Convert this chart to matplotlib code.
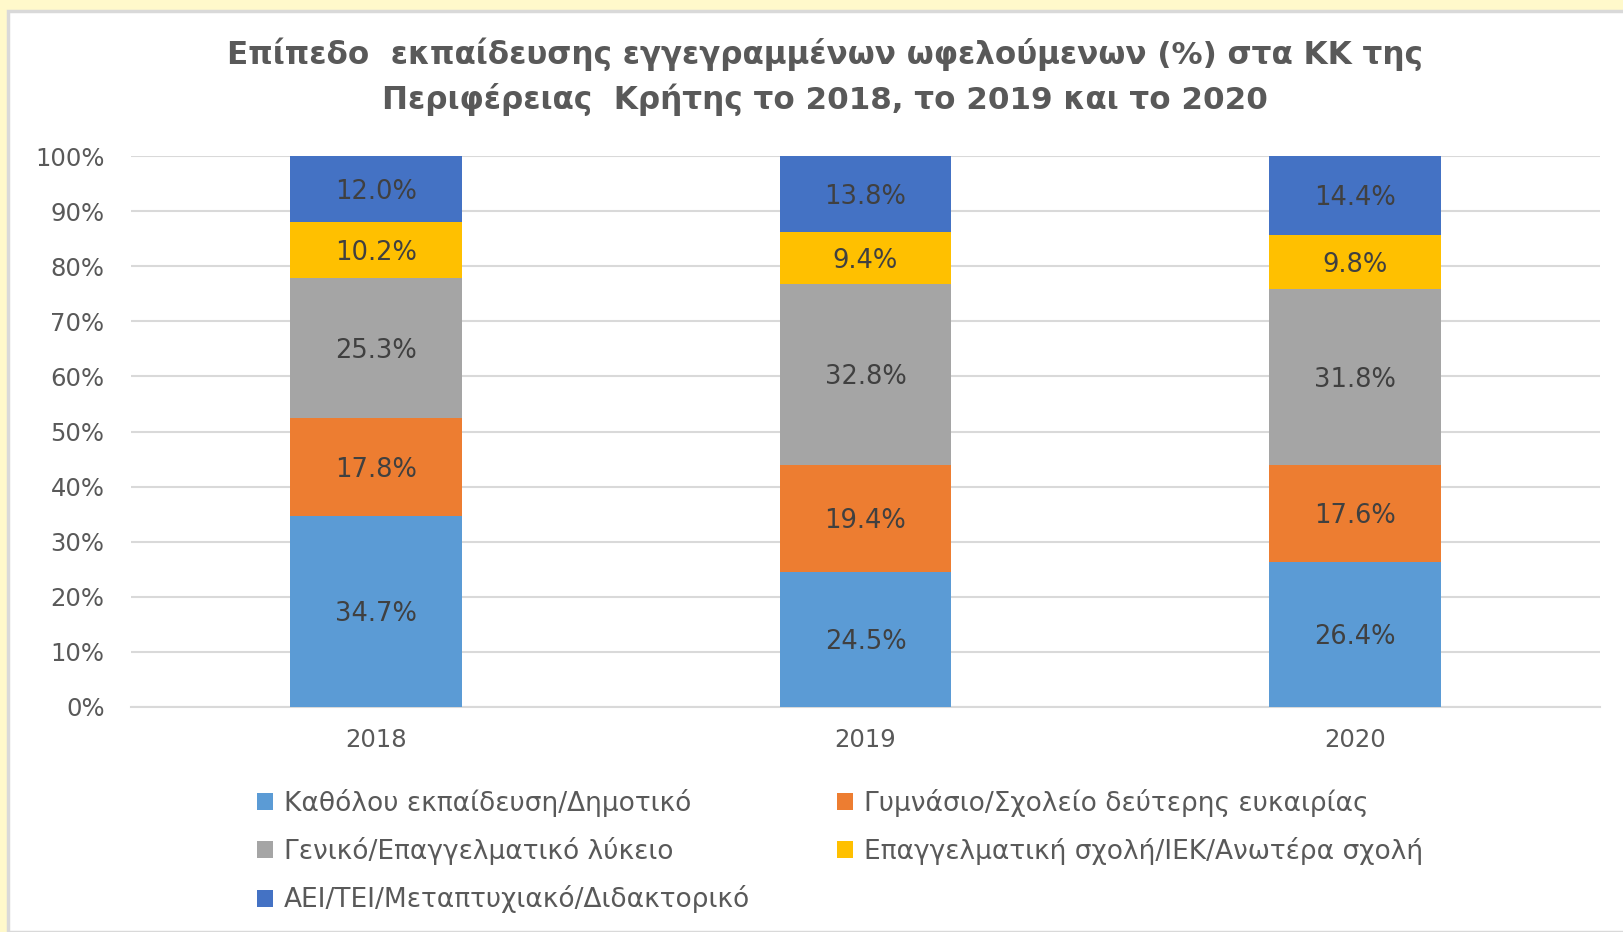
import numpy as np
import matplotlib.pyplot as plt
from matplotlib.patches import Rectangle, Patch

plt.rcParams['font.family'] = ['DejaVu Sans']

years = ['2018', '2019', '2020']
categories = ['Καθόλου εκπαίδευση/Δημοτικό',
              'Γυμνάσιο/Σχολείο δεύτερης ευκαιρίας',
              'Γενικό/Επαγγελματικό λύκειο',
              'Επαγγελματική σχολή/ΙΕΚ/Ανωτέρα σχολή',
              'ΑΕΙ/ΤΕΙ/Μεταπτυχιακό/Διδακτορικό']
dimotiko = [34.7, 24.5, 26.4]
gymnasio = [17.8, 19.4, 17.6]
lykeio = [25.3, 32.8, 31.8]
iek = [10.2, 9.4, 9.8]
aei = [12.0, 13.8, 14.4]
colors = ['#5B9BD5', '#ED7D31', '#A5A5A5', '#FFC000', '#4472C4']

series = [dimotiko, gymnasio, lykeio, iek, aei]
vals = np.array(series)
shares = vals / vals.sum(axis=0) * 100  # 100% stacked

fig = plt.figure(figsize=(16.24, 9.32), dpi=100)
fig.patch.set_facecolor('#FFF9CB')
fig.patches.append(Rectangle((8/1624, 0), 1, 1 - 11/932, transform=fig.transFigure,
                             facecolor='white', edgecolor='#D9D9D9', linewidth=2.5, zorder=-5))

ax = fig.add_axes([131/1624, 1 - 707/932, (1600 - 131)/1624, (707 - 156)/932])
ax.set_facecolor('none')

x = np.arange(len(years))
bottom = np.zeros(len(years))
for i in range(len(series)):
    ax.bar(x, shares[i], 0.35, bottom=bottom, color=colors[i], zorder=3)
    for j in range(len(years)):
        ax.text(x[j], bottom[j] + shares[i][j] / 2 - 0.5, f'{vals[i][j]:.1f}%',
                ha='center', va='center', fontsize=18.5, color='#404040', zorder=4)
    bottom += shares[i]

ax.set_xlim(-0.5, 2.5)
ax.set_ylim(0, 100)
ax.set_yticks(np.arange(0, 101, 10))
ax.set_yticklabels([f'{t}%' for t in range(0, 101, 10)])
ax.set_xticks(x)
ax.set_xticklabels(years)
ax.tick_params(length=0, labelsize=17.5, labelcolor='#595959')
ax.tick_params(axis='x', pad=15)
ax.tick_params(axis='y', pad=19)
ax.grid(axis='y', color='#D9D9D9', linewidth=1.5, zorder=0)
for s in ['top', 'right', 'left']:
    ax.spines[s].set_visible(False)
ax.spines['bottom'].set_color('#D9D9D9')
ax.spines['bottom'].set_linewidth(1.5)

fig.text(825/1624, 1 - 77/932,
         'Επίπεδο  εκπαίδευσης εγγεγραμμένων ωφελούμενων (%) στα ΚΚ της\nΠεριφέρειας  Κρήτης το 2018, το 2019 και το 2020',
         ha='center', va='center', fontsize=22.3, fontweight='bold', color='#595959',
         linespacing=1.45)

# legend filled column-wise, so reorder to read row by row
order = [0, 2, 4, 1, 3]
handles = [Patch(facecolor=colors[k]) for k in order]
labels = [categories[k] for k in order]
fig.legend(handles, labels, ncol=2, loc='upper left',
           bbox_to_anchor=(233/1624, 1 - 765/932), frameon=False,
           fontsize=19, labelcolor='#595959', handlelength=0.62, handleheight=0.62,
           handletextpad=0.4, labelspacing=0.77, columnspacing=3.3)

fig.savefig('out.png', dpi=100, facecolor=fig.get_facecolor())
